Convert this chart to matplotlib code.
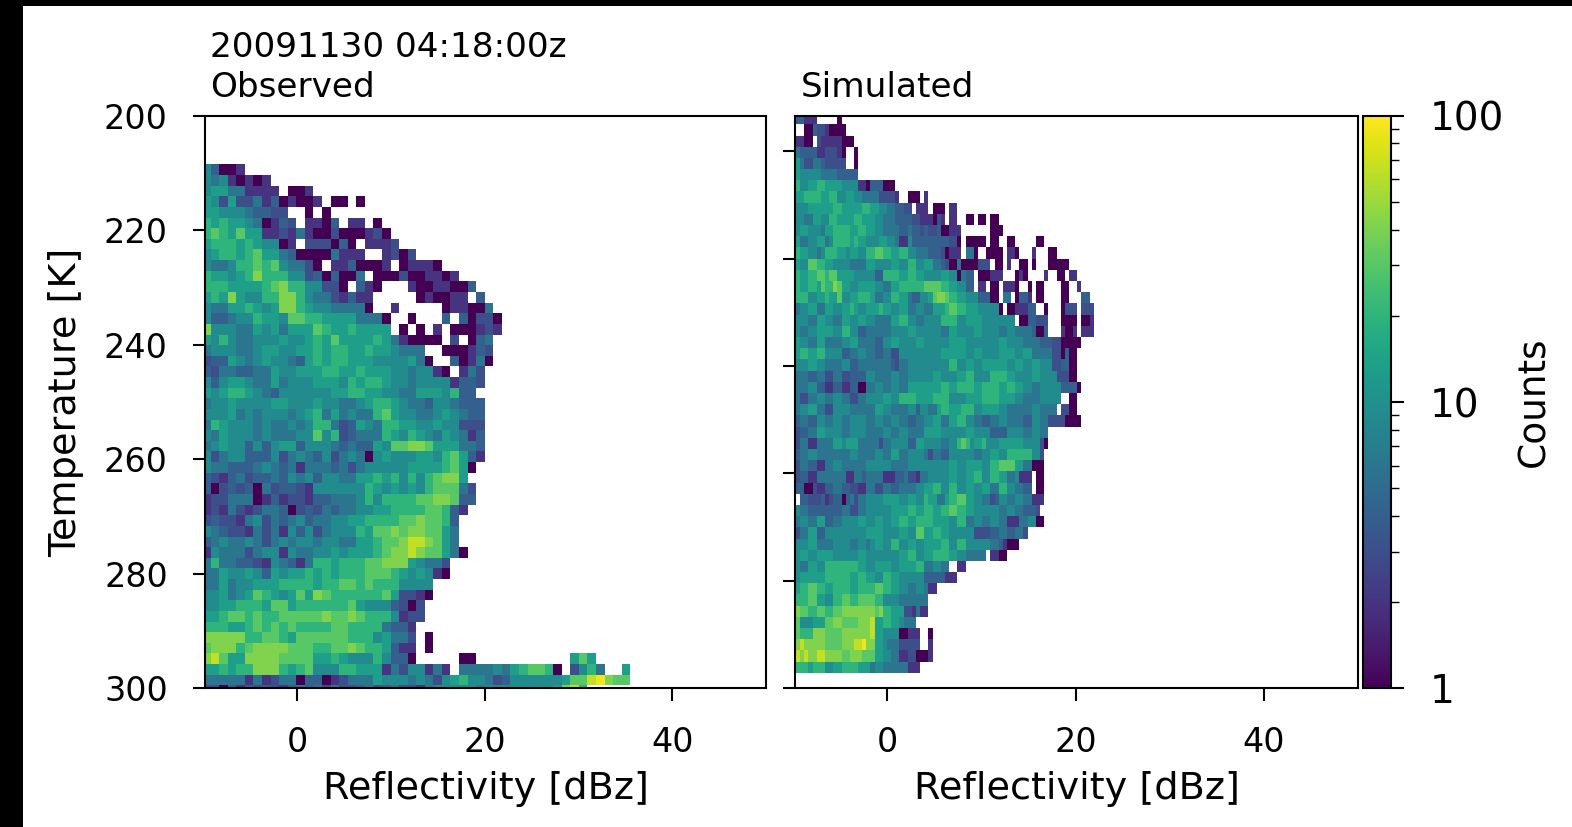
"""Observed vs simulated reflectivity-temperature histograms, rebuilt by eye."""

import numpy as np
import matplotlib
matplotlib.use("Agg")
import matplotlib.pyplot as plt
from matplotlib.colors import LogNorm
from matplotlib.patches import Rectangle

W, H = 1572, 827

# ─── data ─────────────────────────────────────────────────────────────────────
# one character per histogram cell, "." = empty cell, spaces only group columns
level_codes = "123456789abc"
level_counts = [1, 2, 3, 4, 6, 9, 13, 20, 30, 42, 65, 90]

obs_x_start, obs_x_step = -10.12, 0.913
obs_t_start, obs_t_step = 208.5, 1.857
sim_x_start, sim_x_step = -10.13, 0.439
sim_t_start, sim_t_step = 192.92, 2.084

observed_rows = [
    "64112",
    "65621212",
    "677552222. 112",
    "7637335241 2112.11.1",
    "7766654433 ..1.1",
    "8787765124 3.2214.22. 1",
    "8987977223 2521131112 31",
    "7888787661 2.33314 1.2223",
    "6788789775 4111152 22..2313",
    "6556889896 5531.22411 12.12221",
    "877678a888 6634141 15.1113112212",
    "888777789a 8866331.42 1...211221 14",
    "787a76688a a865532422 .....12112 2.4",
    "655778767a a876655551 ..2.....12 2115",
    "6445668776 9988777755 51..1...4. 41331",
    "a666557675 7779877877 77.1.1.2.1 11232",
    "7686556667 6678797777 8752111 1.3.145",
    "5666556776 6778788778 776555..11 1243",
    "3447656766 5478788777 66667 51..41251",
    "4355445576 6777887787 77665 6621.253",
    "6467765575 6667776878 8766566662 443",
    "7678876546 6666677887 7665577768 44",
    "5667666677 6667665567 8876554665 444",
    "6667565666 5678575655 8976655676 544",
    "5876665655 6568853476 5887766766 333",
    "6576665655 5669683455 5876876576 524",
    "5676646467 7466654544 7699aa9777 554",
    "6356644463 5654635651 6766677689 742",
    "6554445654 5255545356 6666777789 71",
    "4324534454 6564665577 87868689aa 7",
    "4134341534 4326666668 7676768999 53",
    "2335551242 3324455568 688889 9aa9 44",
    "2325323554 1343545566 7788889984 2",
    "3433256354 5645566778 8889 9a9984",
    "6543325352 6463566687 99a9aa9975",
    "4565565356 5665665577 899abba975",
    "2655535662 6556676777 89aaba9975 1",
    "5855443265 4258878889 9aaa76553",
    "5576676476 7787878889 998767621",
    "5575667778 8887889989 8886666",
    "6675679876 797a988888 8973321",
    "6677888799 7888888976 664313",
    "7789989889 9999a99a98 886233",
    "8887789898 9888899888 85442",
    "aaaaa88998 7999999888 67553.1",
    "9aaa89aaaa 9998899a98 87422.1",
    "ab977aaaa9 9997787666 86441..... 11.........",
    "778788aaa8 7896668877 7253662 52. 5555657899 81.3685..7",
    "5555525235 5144123555 7666565367 8665346666 66799bca99",
    "3314243432 4545353345 3453325666 6656666666 67ab8",
]
# the far end of row 46 sits well past the rest of the profile
observed_rows[46] += ".." + "797"

simulated_rows = [
    "444222.... .1",
    "...1143321 111",
    "22211.3222 22111",
    "5544442233 321..1",
    "6753355433 333..1",
    "8766666555 544444",
    "8866778877 7766662214 44111",
    "7778888778 8667766555 53333 2..11 1.2",
    "6666777777 8877777887 7665544 33. 222.111.22",
    "6665577668 8777788777 6655544443 3222132.22 ..11.11.11",
    "6677666577 8888778877 6655554454 4343341122 2.......11 1",
    "7755667756 8888787766 6776652264 4444444433 1.11111.11 ..11.....1 1",
    "8877665688 8776776688 9988778866 5554443122 2.551..111 1.221...2. ..11",
    "7766998877 6666555577 6666776688 6677554311 51111333.1 1.2..11.1. ..11111",
    "9877889989 9777766666 4488887788 7766667766 1544.11122 2...121... .2..11.22",
    "8877887988 a977667777 6655778888 8899998877 6644.22.11 .2221..1.1 1....11..2",
    "8888667787 7966778887 5566887754 46679aa988 7766644411 .55.1442.1 1....11... 44",
    "6566775577 6677876677 7877667755 6655777899 8877766666 1.112224 4. .1...1333. 333",
    "6666557766 5577667766 5555778866 5566668888 6677776666 6666.11443 33...1111. 112",
    "6655667777 6688664455 5555666677 6666665577 6666776666 5566555541 14...2112. 222",
    "7766557755 5566775555 4466776666 7766666677 7766666666 7766665555 4443311111",
    "7788778866 6644556655 4455336666 6666667777 7766776666 7777667755 555331411",
    "6666776655 5566445555 5555435566 6666666688 6677667777 7766776677 666334411",
    "5555445533 5533444466 5555665566 6666776666 7788666688 8877666677 666633311",
    "5555664422 4422441155 6655665577 7777778877 8888778888 7788776655 6666644441",
    "5533556655 6655335566 6677668888 7777888866 6677778888 7777665555 66666..11",
    "5566775533 6666555555 7766555566 4665578877 7888667777 6655555566 5555.3311",
    "4455446655 6655666655 6655665544 5566775577 8866554455 6655554466 5533331111",
    "3344557766 6655666655 5566556655 5577776666 6677666644 4466665566 55",
    "3355225555 7767775555 5355666644 7766665566 8986778666 7777776666 31",
    "4455665555 5555665555 6655775566 6653554466 6666556677 6688888866 3",
    "3355442255 6655555566 6666555566 6666666677 6677776688 9999775511 1",
    "3344225555 5552255455 5522244533 2556666677 6677886688 7755622 2.1 1",
    "4441132244 5544332255 3355445555 6677886688 6677667755 88665544.1 1",
    "1.44333423 4414535566 6677776677 6687755788 9977665534 6655665522 2",
    "6655444444 4455335566 6666777788 7788778899 8877666666 5566554443",
    "3566557744 5566667766 7766778877 8888777766 8855665566 5522255661 1",
    "5355774466 6666666677 7766667766 9977887766 6666333344 5544553",
    "6666775555 6666556656 7766886677 6677778866 8866666655 42111",
    "6677667777 6666667766 6666667788 6677888877 6655555.22 11",
    "6655776688 8888887766 7777667777 8855665 5.. 22",
    "6677777788 8888778877 6688776666 6644444222",
    "7788998877 8888778888 9988776655 66522",
    "8888997766 8899889999 8866665555 555",
    "aa99889988 99aaaaaaaa 9a88777332 522",
    "9966677799 aa9999aaab 7788776555",
    "a9888aaa99 99aaaaaaab 7766661122 2..1",
    "babaaaaa99 99aaabbcaa 7765553333 3..2",
    "ababaabbaa aa99aaa999 7766552233 1112",
    "8888788866 7788887775 6655555522 2",
]

title_obs = "20091130 04:18:00z\nObserved"
title_sim = "Simulated"
xlabel = "Reflectivity [dBz]"
ylabel = "Temperature [K]"
cbar_label = "Counts"
x_ticks = [0, 20, 40]
t_ticks = [200, 220, 240, 260, 280, 300]
cbar_ticks = [1, 10, 100]
cbar_ticklabels = ["1", "10", "100"]


# ─── helpers ──────────────────────────────────────────────────────────────────

def decode_rows(rows):
    lookup = dict(zip(level_codes, level_counts))
    rows = [r.replace(" ", "") for r in rows]
    ncols = max(len(r) for r in rows)
    grid = np.full((len(rows), ncols), np.nan)
    for i, row in enumerate(rows):
        for j, ch in enumerate(row):
            if ch in lookup:
                grid[i, j] = lookup[ch]
    return np.ma.masked_invalid(grid)


def ax_rect(x0, y0, x1, y1):
    """Figure-fraction rect from pixel corners, y measured from the top."""
    return [x0 / W, 1 - y1 / H, (x1 - x0) / W, (y1 - y0) / H]


def style_axes(ax):
    for s in ax.spines.values():
        s.set_linewidth(1.5)
    ax.tick_params(axis="both", length=9, width=1.5, labelsize=24, pad=18)


# ─── figure ───────────────────────────────────────────────────────────────────

fig = plt.figure(figsize=(W / 100, H / 100), dpi=100)
norm = LogNorm(vmin=1, vmax=100)

ax_obs = fig.add_axes(ax_rect(205.3, 115.7, 766, 688.3))
ax_sim = fig.add_axes(ax_rect(795.3, 115.7, 1358.3, 688.3))
cax = fig.add_axes(ax_rect(1363.3, 115.7, 1390.7, 688.3))

obs = decode_rows(observed_rows)
sim = decode_rows(simulated_rows)

x_edges = obs_x_start + obs_x_step * np.arange(obs.shape[1] + 1)
t_edges = obs_t_start + obs_t_step * np.arange(obs.shape[0] + 1)
ax_obs.pcolormesh(x_edges, t_edges, obs, cmap="viridis", norm=norm)

x_edges = sim_x_start + sim_x_step * np.arange(sim.shape[1] + 1)
t_edges = sim_t_start + sim_t_step * np.arange(sim.shape[0] + 1)
mesh = ax_sim.pcolormesh(x_edges, t_edges, sim, cmap="viridis", norm=norm)

ax_obs.set_xlim(-9.78, 50)
ax_obs.set_ylim(300, 200)
ax_obs.set_yticks(t_ticks)
ax_obs.set_ylabel(ylabel, fontsize=27.5, labelpad=14)

ax_sim.set_xlim(-9.77, 50)
ax_sim.set_ylim(300, 193.4)
ax_sim.set_yticks(t_ticks)
ax_sim.set_yticklabels([])

for ax in (ax_obs, ax_sim):
    ax.set_xticks(x_ticks)
    ax.set_xlabel(xlabel, fontsize=27.5, labelpad=9)
    style_axes(ax)

ax_obs.set_title(title_obs, loc="left", x=0.008, fontsize=24.7, pad=13.5, linespacing=1.25)
ax_sim.set_title(title_sim, loc="left", x=0.01, fontsize=24.7, pad=13.5)

cb = fig.colorbar(mesh, cax=cax)
cb.set_ticks(cbar_ticks, labels=cbar_ticklabels)
cb.outline.set_linewidth(1.5)
cax.tick_params(which="major", length=9, width=1.5, labelsize=28, pad=19)
cax.tick_params(which="minor", length=6, width=1.0)
cb.set_label(cbar_label, fontsize=27, labelpad=9)

# black bars of the screenshot along the left and top edges
fig.add_artist(Rectangle((0, 0), 23.3 / W, 1, transform=fig.transFigure, color="black", lw=0))
fig.add_artist(Rectangle((0, 1 - 5.7 / H), 1, 5.7 / H, transform=fig.transFigure, color="black", lw=0))

fig.savefig("out.png", dpi=100)
